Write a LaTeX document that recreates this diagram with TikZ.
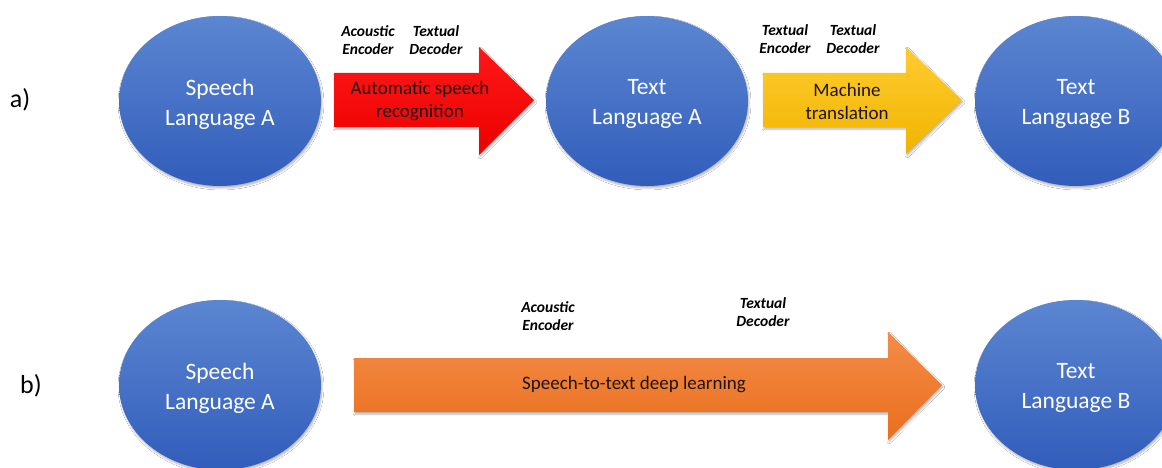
\documentclass[tikz,border=0pt]{standalone}
\usepackage{fontspec}
\setmainfont{Carlito}
\usetikzlibrary{shapes.geometric,shadows.blur}
\definecolor{ellTop}{RGB}{92,134,209}
\definecolor{ellBot}{RGB}{49,93,187}
\definecolor{redTop}{RGB}{255,24,24}
\definecolor{redBot}{RGB}{236,0,0}
\definecolor{yelTop}{RGB}{255,204,48}
\definecolor{yelBot}{RGB}{240,180,0}
\definecolor{orTop}{RGB}{243,140,72}
\definecolor{orBot}{RGB}{234,110,28}
\definecolor{txtDark}{RGB}{30,20,20}
\tikzset{
  blob/.style={ellipse, minimum width=202pt, minimum height=170pt, inner sep=0pt,
    top color=ellTop, bottom color=ellBot, draw=none,
    blur shadow={shadow xshift=1pt, shadow yshift=-2pt, shadow blur steps=6, shadow opacity=30}},
  blobtext/.style={text=white, align=center, inner sep=0pt,
    font=\fontsize{23.5}{30}\selectfont},
  blockarrow/.style={draw=none,
    blur shadow={shadow xshift=1pt, shadow yshift=-2pt, shadow blur steps=6, shadow opacity=30}},
  arrowtext/.style={text=txtDark, align=center, font=\fontsize{19}{23}\selectfont, inner sep=0pt},
  tag/.style={text=black, align=center, font=\fontsize{15.5}{18.5}\selectfont\bfseries\itshape, inner sep=0pt},
  partlabel/.style={text=black, font=\fontsize{26}{30}\selectfont, inner sep=0pt}
}
\begin{document}
\begin{tikzpicture}[x=1pt,y=-1pt]
\useasboundingbox (0,0) rectangle (1162,468);
\clip (0,0) rectangle (1162,468);
\fill[white] (0,0) rectangle (1162,468);

% part labels
\node[partlabel] (la) at (20,100) {a)};
\node[partlabel] (lb) at (31,386) {b)};

% ellipses row a
\node[blob] (sa) at (220,101) {};
\node[blob] (ta) at (647,101) {};
\node[blob] (tb) at (1076,101) {};
\node[blobtext] (sa-t) at ([yshift=-3pt]sa.center) {Speech\\Language A};
\node[blobtext] (ta-t) at ([yshift=-3pt]ta.center) {Text\\Language A};
\node[blobtext] (tb-t) at ([yshift=-3pt]tb.center) {Text\\Language B};

% ellipses row b
\node[blob] (sb) at (220,385) {};
\node[blob] (tbb) at (1076,385) {};
\node[blobtext] (sb-t) at ([yshift=-3pt]sb.center) {Speech\\Language A};
\node[blobtext] (tbb-t) at ([yshift=-3pt]tbb.center) {Text\\Language B};

% red arrow
\path[blockarrow, top color=redTop, bottom color=redBot]
  (334,73) -- (479,73) -- (479,47) -- (534,100) -- (479,155) -- (479,127) -- (334,127) -- cycle;
\node[arrowtext] (asr) at (420,101) {Automatic speech\\recognition};

% yellow arrow
\path[blockarrow, top color=yelTop, bottom color=yelBot]
  (763,73) -- (906,73) -- (906,47) -- (962,100) -- (906,154) -- (906,127) -- (763,127) -- cycle;
\node[arrowtext] (mt) at (847,101) {Machine\\translation};

% orange arrow
\path[blockarrow, top color=orTop, bottom color=orBot]
  (354,358) -- (888,358) -- (888,332) -- (942,385) -- (888,440) -- (888,412) -- (354,412) -- cycle;
\node[arrowtext] (s2t) at (634,385) {Speech-to-text deep learning};

% tags row a
\node[tag] (t1) at (368,40) {Acoustic\\Encoder};
\node[tag] (t2) at (436,40) {Textual\\Decoder};
\node[tag] (t3) at (785,39) {Textual\\Encoder};
\node[tag] (t4) at (853,39) {Textual\\Decoder};

% tags row b
\node[tag] (t5) at (548,316) {Acoustic\\Encoder};
\node[tag] (t6) at (763,312) {Textual\\Decoder};
\end{tikzpicture}
\end{document}
